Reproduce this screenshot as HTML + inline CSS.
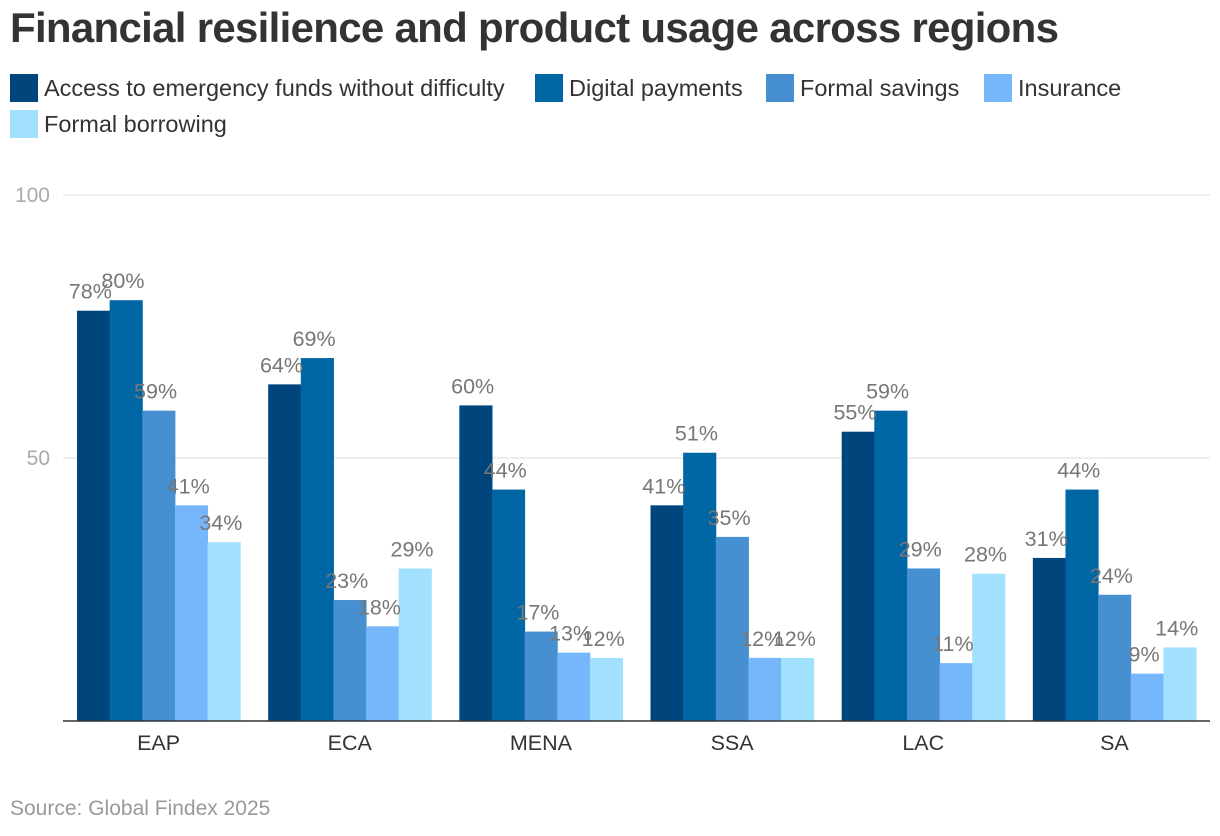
<!DOCTYPE html>
<html><head><meta charset="utf-8"><style>
body{margin:0;background:#fff;font-family:"Liberation Sans",Arial,sans-serif;}
#wrap{position:relative;width:1220px;height:836px;overflow:hidden}
h1{position:absolute;left:10px;top:4px;margin:0;font-size:42px;font-weight:bold;color:#333;letter-spacing:-0.7px}
.leg{position:absolute;display:flex;align-items:center;font-size:23.5px;color:#333}
.sw{width:28px;height:28px;margin-right:6px}
#src{position:absolute;left:10px;top:797px;font-size:21px;color:#999}
</style></head><body><div id="wrap">
<h1>Financial resilience and product usage across regions</h1>
<div id="legend"></div>
<svg id="plot" width="1220" height="836" style="position:absolute;left:0;top:0"></svg>
<div id="src">Source: Global Findex 2025</div>
</div>
<script>
const categories=["EAP","ECA","MENA","SSA","LAC","SA"];
const seriesNames=["Access to emergency funds without difficulty","Digital payments","Formal savings","Insurance","Formal borrowing"];
const emergency=[78,64,60,41,55,31];
const digital=[80,69,44,51,59,44];
const savings=[59,23,17,35,29,24];
const insurance=[41,18,13,12,11,9];
const borrowing=[34,29,12,12,28,14];
const yTicks=[50,100];
const colors=["#00457c","#0066a4","#4690d2","#76b6fa","#a2e1fe"];
const series=[emergency,digital,savings,insurance,borrowing];
const NS="http://www.w3.org/2000/svg";
const svg=document.getElementById('plot');
const x0=63,x1=1210,yBase=721,yTop=195;
const y=v=>yBase-(v/100)*(yBase-yTop);
const gw=(x1-x0)/categories.length,pad=14,bw=(gw-2*pad)/series.length;
function mk(t,a){const e=document.createElementNS(NS,t);for(const k in a)e.setAttribute(k,a[k]);svg.appendChild(e);return e;}
yTicks.forEach(t=>{
 const l=mk('line',{x1:x0,x2:x1,y1:y(t),y2:y(t),stroke:'#ddd','stroke-width':1});
 
 
 const tx=mk('text',{x:x0-13,y:y(t)+7,'text-anchor':'end','font-size':21,fill:'#aaa'});
 tx.textContent=t;
 
 
});
categories.forEach((c,i)=>{
 series.forEach((s,j)=>{
  const bx=x0+i*gw+pad+j*bw;
  const r=mk('rect',{x:bx,y:y(s[i]),width:bw+0.5,height:yBase-y(s[i]),fill:colors[j]});
  
  
 });
 series.forEach((s,j)=>{
  const bx=x0+i*gw+pad+j*bw;
  const t=mk('text',{x:bx+bw/2-3,y:y(s[i])-12,'text-anchor':'middle','font-size':21.5,fill:'#777'});
  t.textContent=s[i]+'%';
  
  
 });
 const t=mk('text',{x:x0+i*gw+gw/2,y:750,'text-anchor':'middle','font-size':21.5,fill:'#333'});
 t.textContent=c;
 
 
});
const ax=mk('line',{x1:x0,x2:x1,y1:yBase,y2:yBase,stroke:'#333','stroke-width':1.5});


const legPos=[[10,74],[535,74],[766,74],[984,74],[10,110]];
const lg=document.getElementById('legend');
seriesNames.forEach((n,j)=>{
 const d=document.createElement('div');d.className='leg';
 d.style.left=legPos[j][0]+'px';d.style.top=legPos[j][1]+'px';
 
 
 d.innerHTML='<div class="sw" style="background:'+colors[j]+'"></div><span>'+n+'</span>';
 lg.appendChild(d);
});
</script></body></html>
